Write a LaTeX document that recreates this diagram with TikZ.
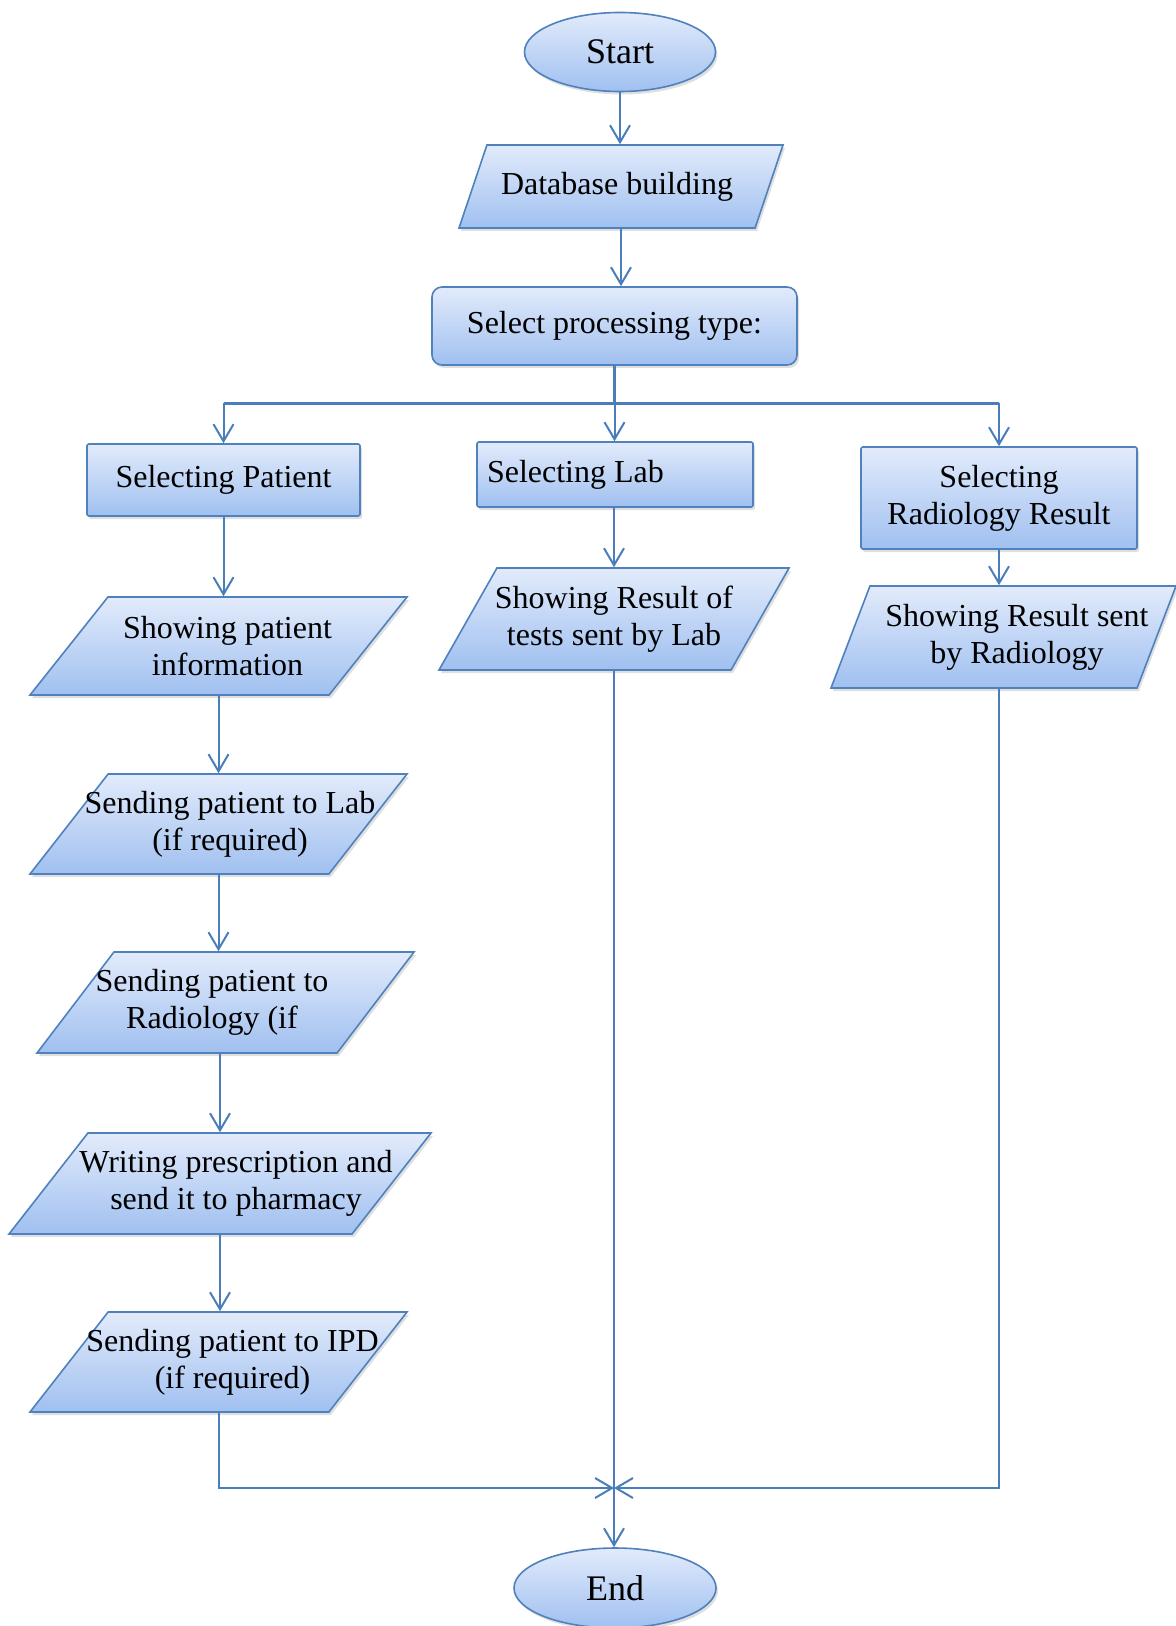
\documentclass[tikz,border=0pt]{standalone}
\usepackage{fontspec}
\setmainfont{Liberation Serif}
\usetikzlibrary{positioning,calc}
\usetikzlibrary{arrows.meta,shapes.geometric,shadows}
\definecolor{FlowLine}{RGB}{74,126,187}
\definecolor{FlowEdge}{RGB}{79,129,189}
\definecolor{FlowTop}{RGB}{226,235,251}
\definecolor{FlowBottom}{RGB}{160,192,240}
\tikzset{
  cell/.style={draw=FlowEdge,line width=0.8pt,top color=FlowTop,bottom color=FlowBottom,
    drop shadow={shadow xshift=1pt,shadow yshift=-1.5pt,opacity=0.25},
    font=\fontsize{16}{18.5}\selectfont,align=center},
  term/.style={cell,ellipse,inner sep=0pt,font=\fontsize{18}{21}\selectfont},
  io/.style 2 args={cell,trapezium,trapezium left angle=#1,trapezium right angle=#2,
    trapezium stretches body=true,inner xsep=0pt},
  proc/.style={cell,rectangle,rounded corners=1pt,inner sep=0pt},
  txt/.style={inner sep=0pt,font=\fontsize{16}{18.5}\selectfont,align=center},
  link/.style={draw=FlowLine,line width=1pt,-{Straight Barb[length=8.5pt,width=10pt]}},
  bus/.style={draw=FlowLine,line width=1.5pt},
}

\begin{document}
\begin{tikzpicture}[x=0.5pt,y=-0.5pt]
\useasboundingbox (0,0) rectangle (1176,1626);
\node[term,minimum width=95.5pt,minimum height=39.5pt] (start) at (620,52) {Start};
\node[io={71.4}{108.6},minimum width=162pt,inner ysep=20.75pt] (db) at (621,186.5) {};
\node[txt] (db-t) at ([xshift=-2pt]db.center) {Database building};
\node[proc,rounded corners=5pt,minimum width=182.5pt,minimum height=39pt] (sel) at (614.5,326) {Select processing type:};
\coordinate (br) at (614.5,403);
\node[proc,minimum width=136.5pt,minimum height=36pt] (sp) at (223.5,480) {Selecting Patient};
\node[proc,minimum width=138pt,minimum height=32.5pt,text width=128pt,align=flush left] (sl) at (615,474.5) {Selecting Lab};
\node[proc,minimum width=138pt,minimum height=51pt] (sr) at (999,498) {Selecting\\Radiology Result};
\node[io={51.5}{128.5},minimum width=188.5pt,inner ysep=24.5pt] (spi) at (218.5,646) {};
\node[txt] (spi-t) at ([xshift=4.5pt]spi.center) {Showing patient\\information};
\node[io={52}{128},minimum width=188.5pt,inner ysep=25pt] (spl) at (218.5,824) {};
\node[txt] (spl-t) at ([xshift=5.75pt]spl.center) {Sending patient to Lab\\(if required)};
\node[io={52.7}{127.3},minimum width=188.5pt,inner ysep=25.25pt] (spr) at (225.5,1002.5) {};
\node[txt] (spr-t) at ([xshift=-6.75pt]spr.center) {Sending patient to\\Radiology (if};
\node[io={52}{128},minimum width=211pt,inner ysep=25.25pt] (wp) at (220,1183.5) {};
\node[txt] (wp-t) at ([xshift=8pt]wp.center) {Writing prescription and\\send it to pharmacy};
\node[io={52}{128},minimum width=188.5pt,inner ysep=25pt] (ipd) at (218.5,1362) {};
\node[txt] (ipd-t) at ([xshift=7pt]ipd.center) {Sending patient to IPD\\(if required)};
\node[io={60.4}{119.6},minimum width=175pt,inner ysep=25.5pt] (srl) at (614,619) {};
\node[txt] (srl-t) at (srl.center) {Showing Result of\\tests sent by Lab};
\node[io={69.1}{110.9},minimum width=172.5pt,inner ysep=25.5pt] (srr) at (1003.5,637) {};
\node[txt] (srr-t) at ([xshift=6.75pt]srr.center) {Showing Result sent\\by Radiology};
\coordinate (m) at (614,1488);
\node[term,minimum width=101pt,minimum height=40pt] (end) at (615,1588) {End};
\draw[link] (start.south) -- (start.south |- db.north);
\draw[link] (db.south) -- (db.south |- sel.north);
\draw[bus] (sel.south) -- (br);
\draw[bus] (sp.north |- br) -- (sr.north |- br);
\draw[link] (sp.north |- br) -- (sp.north);
\draw[link] (br) -- (br |- sl.north);
\draw[link] (sr.north |- br) -- (sr.north);
\draw[link] (sp.south) -- (sp.south |- spi.north);
\draw[link] (spi.south) -- (spi.south |- spl.north);
\draw[link] (spl.south) -- (spl.south |- spr.north);
\draw[link] (wp.north |- spr.south) -- (wp.north);
\draw[link] (wp.south) -- (wp.south |- ipd.north);
\draw[link] (sl.south -| srl.north) -- (srl.north);
\draw[link] (sr.south) -- (sr.south |- srr.north);
\draw[link] (ipd.south) |- (m);
\draw[link] (srr.south -| sr.south) |- (m);
\draw[link] (srl.south) -- (srl.south |- end.north);
\end{tikzpicture}
\end{document}
